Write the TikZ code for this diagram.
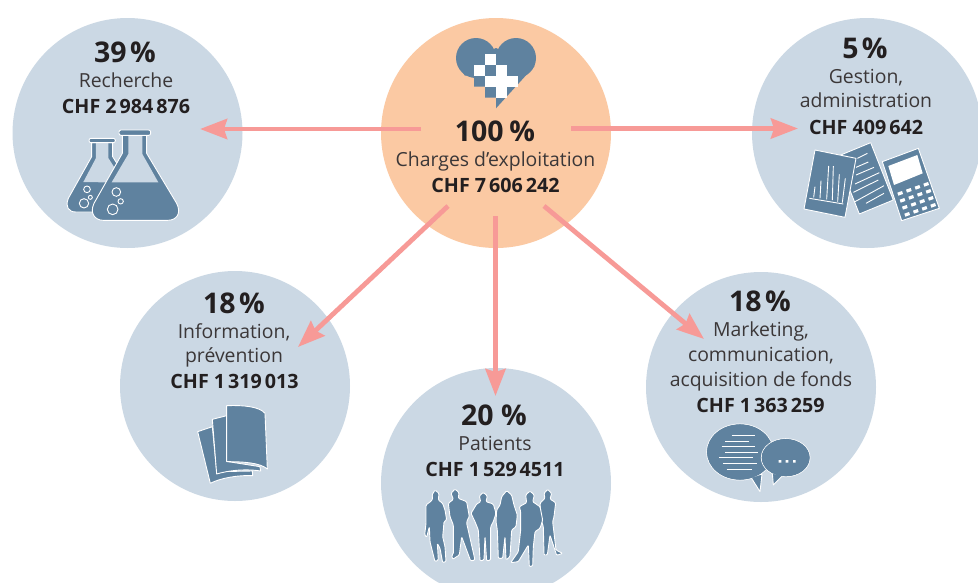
\documentclass[tikz,border=0pt]{standalone}
\usepackage{fontspec}
\setmainfont{Open Sans}
\usetikzlibrary{arrows.meta}
\definecolor{disc}{HTML}{CBD8E4}
\definecolor{peach}{HTML}{FBC9A3}
\definecolor{salmon}{HTML}{F79A97}
\definecolor{slate}{HTML}{5F829F}
\definecolor{ink}{HTML}{231F20}
\definecolor{inklight}{HTML}{3B3738}
\newcommand{\gp}{\kern.15em}
\tikzset{
  disk/.style={circle,fill=disc,minimum size=230pt,inner sep=0pt},
  txt/.style={anchor=base,inner sep=0pt,text=ink},
  pct/.style={txt,font=\fontsize{28.5}{29}\selectfont\bfseries},
  lab/.style={txt,text=inklight,font=\fontsize{19.4}{20}\selectfont},
  chf/.style={txt,font=\fontsize{19.7}{20}\selectfont\bfseries},
  flow/.style={draw=salmon,line width=4.8pt,-{Stealth[length=27pt,width=20pt,inset=3pt,fill=salmon]}},
  ico/.style={fill=slate,draw=white,line width=.9pt,line join=round},
  pers/.style={ico,rounded corners=1.1pt},
  icl/.style={draw=white,line width=.9pt},
  tiny/.style={x=.33333pt,y=-.33333pt}
}
\begin{document}
\begin{tikzpicture}[x=1pt,y=-1pt]
\useasboundingbox (0,0) rectangle (978,582);
\fill[white] (0,0) rectangle (978,582);
% discs
\node[disk] (res) at (127.5,133) {};
\node[disk,fill=peach] (tot) at (496,133) {};
\node[disk] (ges) at (867,133) {};
\node[disk] (inf) at (235,386) {};
\node[disk] (pat) at (496,483) {};
\node[disk] (mar) at (761,387) {};
% heart
\fill[slate] (476,58) circle[radius=20];
\fill[slate] (516,58) circle[radius=20];
\fill[slate] (458,66) -- (465,75.7) -- (474,75.7) -- (474,86.7) -- (485,86.7) -- (485,97.7) -- (496,97.7) -- (496,108.3) -- (534.5,66) -- (496,48) -- cycle;
\fill[white] (485,53.7) rectangle (496,64.7);
\fill[white] (474,64.7) rectangle (485,75.7);
\fill[white] (496,64.7) rectangle (507,75.7);
\fill[white] (485,75.7) rectangle (518,86.7);
\fill[white] (496,86.7) rectangle (507,97.7);
% flasks
\begin{scope}[tiny]
 \path[ico] (275,428) -- (275,470) -- (205,595) .. controls (195,620) and (205,636) .. (228,636) -- (330,636) -- (395,560) -- (338,470) -- (338,428) -- cycle;
 \fill[disc] (288,428) -- (325,428) -- (325,474) -- (372,548) -- (250,546) -- (288,474) -- cycle;
 \path[ico,rounded corners=2pt] (267,415) rectangle (346,428);
 \path[icl,fill=slate] (261,568) circle[radius=10];
 \path[icl,fill=slate] (252,610) circle[radius=14];
 \path[icl,fill=slate] (271,592) circle[radius=6];
 \path[ico] (367,405) -- (367,460) -- (282,610) .. controls (268,640) and (285,661) .. (310,661) -- (503,661) .. controls (530,661) and (545,640) .. (530,610) -- (440,460) -- (440,405) -- cycle;
 \fill[disc] (385,406) -- (427,406) -- (427,462) -- (475,547) -- (335,547) -- (385,462) -- cycle;
 \path[ico,rounded corners=2pt] (357,390) rectangle (452,406);
 \path[icl,fill=slate] (349,576) circle[radius=13];
 \path[icl,fill=slate] (338,628) circle[radius=16];
 \path[icl,fill=slate] (362,604) circle[radius=8];
\end{scope}
% office icon
\begin{scope}[shift={(800,140)},tiny]
 \path[ico] (212,8) -- (280,180) -- (178,222) -- (110,50) -- cycle;
 \draw[icl] (172,55) -- (202,40) (168,82) -- (205,66) (168,105) -- (222,82) (165,132) -- (238,98) (160,157) -- (235,120) (165,185) -- (252,137) (198,190) -- (252,160);
 \path[ico] (45,30) -- (168,55) -- (135,232) -- (12,207) -- cycle;
 \draw[icl] (28,175) -- (130,192);
 \draw[icl] (41,172) -- (45,140) (60,175) -- (63,122) (80,178) -- (86,78) (97,180) -- (100,78) (113,185) -- (118,103) (127,188) -- (136,115);
 \path[ico] (247,65) -- (355,25) -- (418,205) -- (305,242) -- cycle;
 \fill[white] (265,78) -- (352,45) -- (368,100) -- (282,135) -- cycle;
 \foreach \i in {0,1,2,3}{\foreach \j in {0,1,2,3}{
   \fill[white] ({292+\i*26+\j*7},{158-\i*9+\j*21}) -- ++(14,-5) -- ++(3,9) -- ++(-14,5) -- cycle;
 }}
\end{scope}
% papers
\begin{scope}[shift={(120,270)},tiny]
 \path[ico] (233,485) -- (277,470) -- (290,605) -- (397,603) -- (398,617) .. controls (350,615) and (300,625) .. (271,640) -- cycle;
 \path[ico] (277,448) -- (320,437) -- (325,575) -- (420,590) -- (422,603) .. controls (370,595) and (320,603) .. (290,612) -- cycle;
 \path[ico] (320,407) .. controls (370,405) and (420,410) .. (435,430) -- (442,597) .. controls (420,578) and (370,575) .. (320,575) -- cycle;
\end{scope}
% people
\begin{scope}[shift={(420,480)},tiny]
 \path[pers] (178,48) -- (190,37) -- (202,48) -- (198,65) -- (220,72) -- (228,100) -- (220,125) -- (212,140) -- (212,240) -- (200,243) -- (195,170) -- (192,240) -- (180,243) -- (175,150) -- (165,125) -- (153,100) -- (170,72) -- (182,65) -- cycle;
 \path[pers] (36,45) -- (45,30) -- (57,40) -- (55,60) -- (68,70) -- (75,90) -- (80,120) -- (72,125) -- (70,150) -- (68,170) -- (75,200) -- (78,245) -- (68,248) -- (60,205) -- (52,190) -- (55,240) -- (45,245) -- (30,185) -- (28,140) -- (20,172) -- (14,165) -- (18,130) -- (18,75) -- (35,62) -- (38,55) -- cycle;
 \path[pers] (93,40) -- (105,27) -- (117,38) -- (115,55) -- (140,65) -- (148,110) -- (142,120) -- (140,130) -- (165,240) -- (152,243) -- (125,170) -- (118,225) -- (98,238) -- (95,225) -- (100,222) -- (100,135) -- (90,110) -- (85,70) -- (100,58) -- (97,50) -- cycle;
\end{scope}
\begin{scope}[shift={(490,480)},tiny]
 \path[pers] (162,40) -- (173,28) -- (185,40) -- (180,57) -- (197,68) -- (192,110) -- (188,125) -- (198,210) -- (218,220) -- (200,226) -- (180,165) -- (172,225) -- (162,225) -- (160,140) -- (155,125) -- (150,70) -- (165,55) -- cycle;
 \path[pers] (35,50) -- (50,32) -- (65,45) -- (72,75) -- (82,105) -- (78,140) -- (65,150) -- (60,230) -- (48,240) -- (45,170) -- (38,235) -- (25,235) -- (22,150) -- (18,125) -- (20,90) -- (30,75) -- cycle;
 \path[pers] (107,45) -- (120,33) -- (133,45) -- (128,65) -- (150,80) -- (158,120) -- (150,145) -- (135,155) -- (130,200) -- (128,258) -- (118,260) -- (115,195) -- (85,245) -- (62,248) -- (85,215) -- (92,150) -- (92,95) -- (88,80) -- (110,68) -- cycle;
\end{scope}
% speech bubbles
\begin{scope}[shift={(640,270)},tiny]
 \path[ico] (300,546) circle[x radius=100,y radius=84];
 \path[ico] (333,622) -- (360,665) -- (366,612) -- cycle;
 \fill[slate] (300,546) circle[x radius=99,y radius=83];
 \draw[icl] (275,495) -- (345,495) (255,513) -- (328,513) (245,530) -- (345,530) (255,547) -- (355,547) (237,563) -- (338,563) (250,580) -- (350,580) (260,598) -- (335,598);
 \path[ico] (437,563) circle[x radius=73,y radius=57];
 \path[ico] (397,610) -- (400,645) -- (430,615) -- cycle;
 \fill[slate] (437,563) circle[x radius=72,y radius=56];
 \fill[white] (416,570) rectangle (424,578) (437,570) rectangle (445,578) (459,570) rectangle (467,578);
\end{scope}
% texts
\node[pct] (t1a) at (125,62) {39\kern.12em\%};
\node[lab] (t1b) at (126,87) {Recherche};
\node[chf] (t1c) at (126,113) {CHF 2\gp984\gp876};
\node[pct] (t0a) at (495,141) {100\kern.2em\%};
\node[lab] (t0b) at (495.5,166) {Charges d’exploitation};
\node[chf] (t0c) at (495.5,192) {CHF 7\gp606\gp242};
\node[pct] (t2a) at (865,58) {5\kern.12em\%};
\node[lab] (t2b) at (866,83) {Gestion,};
\node[lab] (t2c) at (866,107) {administration};
\node[chf] (t2d) at (866,134) {CHF 409\gp642};
\node[pct] (t3a) at (234,313) {18\kern.12em\%};
\node[lab] (t3b) at (234,338) {Information,};
\node[lab] (t3c) at (234,362) {prévention};
\node[chf] (t3d) at (234.5,388) {CHF 1\gp319\gp013};
\node[pct] (t4a) at (494,425) {20 \%};
\node[lab] (t4b) at (495,450) {Patients};
\node[chf] (t4c) at (495,476) {CHF 1\gp529\gp4511};
\node[pct] (t5a) at (760,311) {18\kern.12em\%};
\node[lab] (t5b) at (761,336) {Marketing,};
\node[lab] (t5c) at (761,361) {communication,};
\node[lab] (t5d) at (761,386) {acquisition de fonds};
\node[chf] (t5e) at (760.5,412) {CHF 1\gp363\gp259};
% arrows
\coordinate (aL) at (421,129);
\coordinate (aLe) at (200,129);
\coordinate (aR) at (571,128.5);
\coordinate (aRe) at (798,128.5);
\coordinate (aSW) at (448,206);
\coordinate (aSWe) at (298,347);
\coordinate (aS) at (495.5,216);
\coordinate (aSe) at (495.5,396);
\coordinate (aSE) at (544,206);
\coordinate (aSEe) at (704,339);
\draw[flow] (aL) -- (aLe);
\draw[flow] (aR) -- (aRe);
\draw[flow] (aSW) -- (aSWe);
\draw[flow] (aS) -- (aSe);
\draw[flow] (aSE) -- (aSEe);
\end{tikzpicture}
\end{document}
